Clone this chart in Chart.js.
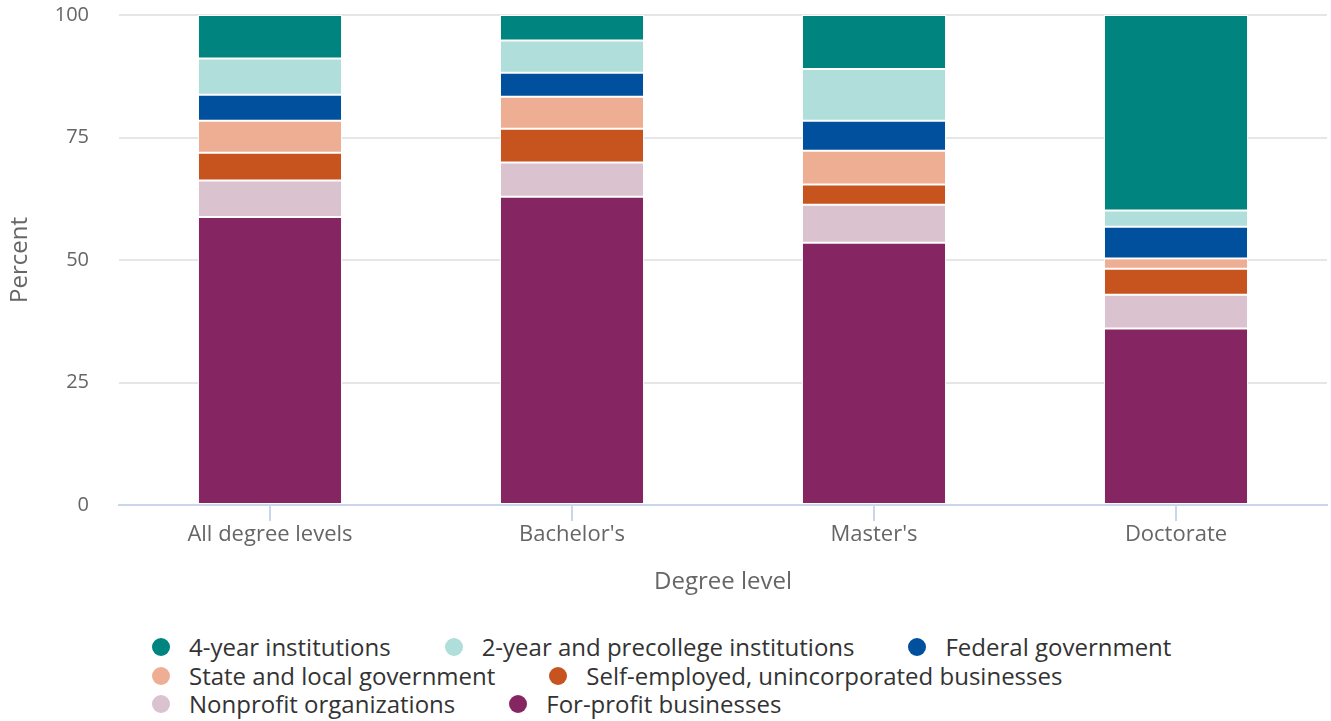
<!DOCTYPE html>
<html>
<head>
<meta charset="utf-8">
<script src="https://cdn.jsdelivr.net/npm/chart.js@4"></script>
<style>
  html, body { margin: 0; padding: 0; background: #fff; }
  #wrap { position: relative; width: 1331px; height: 721px; overflow: hidden; }
  #chartBox { position: absolute; left: 0; top: -27px; width: 1331px; height: 637px; }
  #legend { position: absolute; left: 152px; top: 633px; width: 1120px; display: flex; flex-wrap: wrap;
            font-family: "Open Sans", sans-serif; font-size: 24px; color: #333; line-height: 28.5px; }
  .item { display: flex; align-items: center; margin-right: 54px; white-space: nowrap; }
  .dot { width: 18px; height: 18px; border-radius: 50%; margin-right: 19px; flex: none; }
</style>
</head>
<body>
<div id="wrap">
  <div id="chartBox"><canvas id="c"></canvas></div>
  <div id="legend"></div>
</div>
<script>
const categories = ["All degree levels", "Bachelor's", "Master's", "Doctorate"];
const yTicks = [0, 25, 50, 75, 100];

const forProfit   = [58.8, 62.9, 53.5, 36.0];
const nonprofit   = [7.4, 7.0, 7.8, 6.9];
const selfEmployed= [5.7, 6.9, 4.1, 5.3];
const stateLocal  = [6.5, 6.5, 6.9, 2.1];
const federal     = [5.3, 4.9, 6.1, 6.5];
const twoYear     = [7.4, 6.6, 10.6, 3.3];
const fourYear    = [8.9, 5.2, 11.0, 39.9];

const seriesNames = ["For-profit businesses", "Nonprofit organizations", "Self-employed, unincorporated businesses",
  "State and local government", "Federal government", "2-year and precollege institutions", "4-year institutions"];
const seriesValues = [forProfit, nonprofit, selfEmployed, stateLocal, federal, twoYear, fourYear];
const seriesColors = ["#852663", "#dbc2cf", "#c7531f", "#edae93", "#00509d", "#b0dedb", "#008480"];

const datasets = seriesNames.map((n, i) => ({
  label: n,
  data: seriesValues[i],
  backgroundColor: seriesColors[i],
  borderColor: "#ffffff",
  borderWidth: 1,
  borderSkipped: false,
  barPercentage: 0.477,
  categoryPercentage: 1.0
}));

const font = "'Open Sans', sans-serif";

new Chart(document.getElementById('c'), {
  type: 'bar',
  data: { labels: categories, datasets },
  options: {
    responsive: true,
    maintainAspectRatio: false,
    animation: false,
    layout: { padding: { top: 0, right: 4, left: 0, bottom: 0 } },
    plugins: { legend: { display: false }, tooltip: { enabled: false } },
    scales: {
      x: {
        stacked: true,
        afterFit: s => { s.height = 105; },
        grid: { display: true, offset: false, drawOnChartArea: false, drawTicks: true, tickLength: 16, color: '#ccd6eb', lineWidth: 2 },
        border: { display: true, color: '#ccd6eb', width: 2 },
        ticks: { color: '#666', font: { family: font, size: 22 }, padding: 1, maxRotation: 0 },
        title: { display: true, text: 'Degree level', color: '#666', font: { family: font, size: 24 }, padding: { top: 0, bottom: 13 } }
      },
      y: {
        stacked: true,
        min: 0, max: 100,
        afterFit: s => { s.width = 119; },
        afterBuildTicks: s => { s.ticks = yTicks.map(v => ({ value: v })); },
        grid: { color: '#e6e6e6', lineWidth: 2, drawTicks: false },
        border: { display: false },
        ticks: { color: '#666', font: { family: font, size: 20 }, padding: 30 },
        title: { display: true, text: 'Percent', color: '#666', font: { family: font, size: 24 }, padding: { top: 6, bottom: 0 } }
      }
    }
  }
});

const legend = document.getElementById('legend');
for (let i = seriesNames.length - 1; i >= 0; i--) {
  const it = document.createElement('div');
  it.className = 'item';
  const d = document.createElement('span');
  d.className = 'dot';
  d.style.background = seriesColors[i];
  const t = document.createElement('span');
  t.textContent = seriesNames[i];
  it.appendChild(d); it.appendChild(t);
  legend.appendChild(it);
}
</script>
</body>
</html>
